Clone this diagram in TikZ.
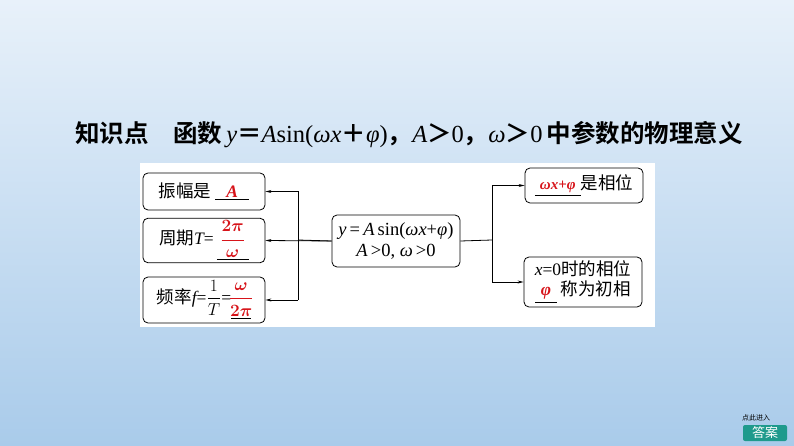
\documentclass[tikz,border=0pt]{standalone}
\usepackage{amsmath}
\usepackage{fontspec}
\setmainfont{Liberation Serif}
\newfontfamily\cjk{Noto Sans CJK SC}[BoldFont={* Bold}]
\usetikzlibrary{arrows.meta}
\definecolor{ans}{HTML}{D7141A}
\definecolor{btn}{HTML}{1E9A8C}
\definecolor{bgtop}{HTML}{E8F1FA}
\definecolor{bgbot}{HTML}{A9CBEA}
\newcommand{\blank}[2]{\underline{\makebox[#1]{\color{ans}\boldmath\bfseries#2}}}
\newcommand{\lit}[1]{{\rmfamily\mdseries\itshape #1}}
\newcommand{\blit}[1]{{\rmfamily\bfseries\itshape #1}}
\newcommand{\lrm}[1]{{\rmfamily\mdseries #1}}
\begin{document}
\begin{tikzpicture}[x=1pt,y=-1pt,
  bx/.style={draw,thick,rounded corners=5pt,inner sep=2pt,font=\cjk\fontsize{17.5}{20}\selectfont,align=center},
  arr/.style={thick,-{Stealth[length=6pt,width=3pt]}}]
\shade[top color=bgtop,bottom color=bgbot] (0,0) rectangle (794,446);
\useasboundingbox (0,0) rectangle (794,446);
\node[anchor=base west,font=\cjk\bfseries\fontsize{24.5}{28}\selectfont,inner sep=0] (title) at (75,143)
 {知识点\quad 函数\,\lit{y}＝\lit{A}\lrm{sin(}\lit{ωx}＋\lit{φ}\lrm{)}，\lit{A}＞\lrm{0}，\lit{ω}＞\lrm{0}\,中参数的物理意义};
\fill[white] (140,163) rectangle (655,327);
\node[bx,minimum width=122,minimum height=37] (b1) at (204,191.5) {振幅是\ \blank{34pt}{\blit{A}}};
\node[bx,minimum width=122,minimum height=37] (b2) at (204,240.5) {周期\lit{T}\lrm{=}\,\blank{32pt}{$\displaystyle\frac{2\pi}{\omega}$}};
\node[bx,minimum width=122,minimum height=46] (b3) at (204,300) {频率\lit{f}\lrm{=}$\displaystyle\frac{1}{T}$\lrm{=}\blank{20pt}{$\displaystyle\frac{\omega}{2\pi}$}};
\node[bx,minimum width=128,minimum height=52,font=\rmfamily\fontsize{18.5}{21}\selectfont] (c) at (396,241) {\textit{y}\,=\,\textit{A}\,sin(\textit{ωx}+\textit{φ})\\\textit{A}\,>0,\ \textit{ω}\,>0};
\node[bx,minimum width=118,minimum height=35] (r1) at (584,185.5) {\blank{46pt}{\blit{\fontsize{15}{16}\selectfont ωx}{\rmfamily\bfseries\fontsize{15}{16}\selectfont +}\blit{\fontsize{15}{16}\selectfont φ}}是相位};
\node[bx,minimum width=118,minimum height=50] (r2) at (583,282) {\lit{x}\lrm{=0}时的相位\\\blank{22pt}{\blit{φ}}\ 称为初相};
\coordinate (lj) at (298,240);
\coordinate (rj) at (492,240);
\draw[thick] (c.west) -- (lj);
\draw[arr] (298,191.5) -- (b1.east);
\draw[arr] (c.west) -- (b2.east);
\draw[arr] (298,300) -- (b3.east);
\draw[thick] (298,191.5) -- (298,300);
\draw[thick] (c.east) -- (rj);
\draw[thick] (492,185.5) -- (492,282);
\draw[arr] (492,185.5) -- (r1.west);
\draw[arr] (492,282) -- (r2.west);
\node[font=\cjk\fontsize{7}{8}\selectfont,inner sep=0] (hint) at (756,418) {点此进入};
\node[fill=btn,text=white,font=\cjk\fontsize{13}{14}\selectfont,rounded corners=2pt,minimum width=44,minimum height=16,inner sep=0] (btn) at (765,433) {答案};
\end{tikzpicture}
\end{document}
